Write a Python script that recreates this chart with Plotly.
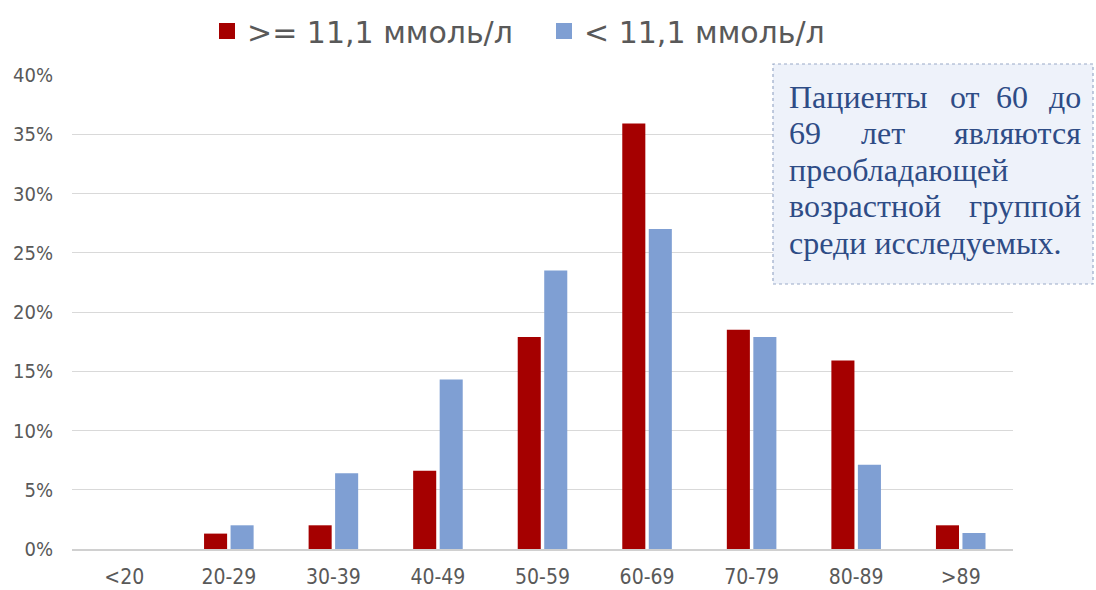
import plotly.graph_objects as go

categories = ["<20", "20-29", "30-39", "40-49", "50-59", "60-69", "70-79", "80-89", ">89"]
high_glucose = [0.0, 1.3, 2.0, 6.6, 17.9, 35.9, 18.5, 15.9, 2.0]
low_glucose = [0.0, 2.0, 6.4, 14.3, 23.5, 27.0, 17.9, 7.1, 1.35]
series_names = [">= 11,1 ммоль/л", "< 11,1 ммоль/л"]
y_ticks = [0, 5, 10, 15, 20, 25, 30, 35, 40]
y_tick_labels = [f"{v}%" for v in y_ticks]
note_lines = ["Пациенты от 60 до", "69 лет являются", "преобладающей", "возрастной группой", "среди исследуемых."]

# layout (style) for the justified note: line centres (px) and word anchors (px)
note_line_y = [97, 133, 170, 206, 243]
note_word_pos = [
    [("left", 787), ("center", 965), ("center", 1012), ("right", 1083)],
    [("left", 787), ("center", 883), ("right", 1083)],
    [("left", 787)],
    [("left", 787), ("right", 1083)],
    [("left", 787)],
]

axis_font = "'DejaVu Sans Condensed', 'DejaVu Sans', sans-serif"
legend_font = "'DejaVu Sans', sans-serif"
note_font = dict(family="'Liberation Serif', 'Times New Roman', serif", size=32, color="#2E4C86")
colors = ["#A50000", "#7F9FD3"]

fig = go.Figure()
for vals, name, col in zip([high_glucose, low_glucose], series_names, colors):
    fig.add_trace(go.Bar(x=categories, y=vals, name=name, showlegend=False,
                         marker=dict(color=col, line=dict(width=0))))
for name, col in zip(series_names, colors):
    fig.add_trace(go.Scatter(x=[None], y=[None], mode="markers", name=name,
                             marker=dict(symbol="square", size=18, color=col)))

L, R, T, B = 72, 83, 75, 41
W, H = 1096, 590
pw, ph = W - L - R, H - T - B

def px_x(x):
    return (x - L) / pw

def px_y(y):
    return (H - B - y) / ph

fig.add_shape(type="rect", xref="paper", yref="paper",
              x0=px_x(773), x1=px_x(1093), y0=px_y(284), y1=px_y(64),
              fillcolor="#EEF2FA", line=dict(color="#9AAAC8", width=1.2, dash="dot"),
              layer="above")

for line, ly, pos in zip(note_lines, note_line_y, note_word_pos):
    words = line.split(" ")
    if len(pos) == 1:
        words = [line]
    for word, (anchor, xp) in zip(words, pos):
        fig.add_annotation(xref="paper", yref="paper", x=px_x(xp), y=px_y(ly),
                           xanchor=anchor, yanchor="middle", showarrow=False,
                           text=word, font=note_font)

fig.update_layout(
    width=W, height=H,
    margin=dict(l=L, r=R, t=T, b=B, autoexpand=False),
    paper_bgcolor="white", plot_bgcolor="white",
    barmode="group", bargap=0.493, bargroupgap=0.13,
    font=dict(family=axis_font, color="#595959"),
    legend=dict(orientation="h", xref="container", yref="container",
                x=(227 - 20) / W, xanchor="left", y=1 - 31 / H, yanchor="middle",
                font=dict(size=30, color="#595959", family=legend_font),
                entrywidth=292, entrywidthmode="pixels",
                traceorder="normal"),
    xaxis=dict(showgrid=False, showline=True, linecolor="#D0D0D0", linewidth=1.5,
               tickfont=dict(size=21), ticks="", ticklabelstandoff=8, automargin=False),
    yaxis=dict(range=[0, 40], tickvals=y_ticks, ticktext=y_tick_labels,
               showgrid=True, gridcolor="#D9D9D9", gridwidth=1,
               zeroline=False, showline=False, tickfont=dict(size=20),
               ticklabelstandoff=18, automargin=False),
    showlegend=True,
)

fig.write_html("out.html", config={"displayModeBar": False},
               post_script="document.body.style.margin='0';")
